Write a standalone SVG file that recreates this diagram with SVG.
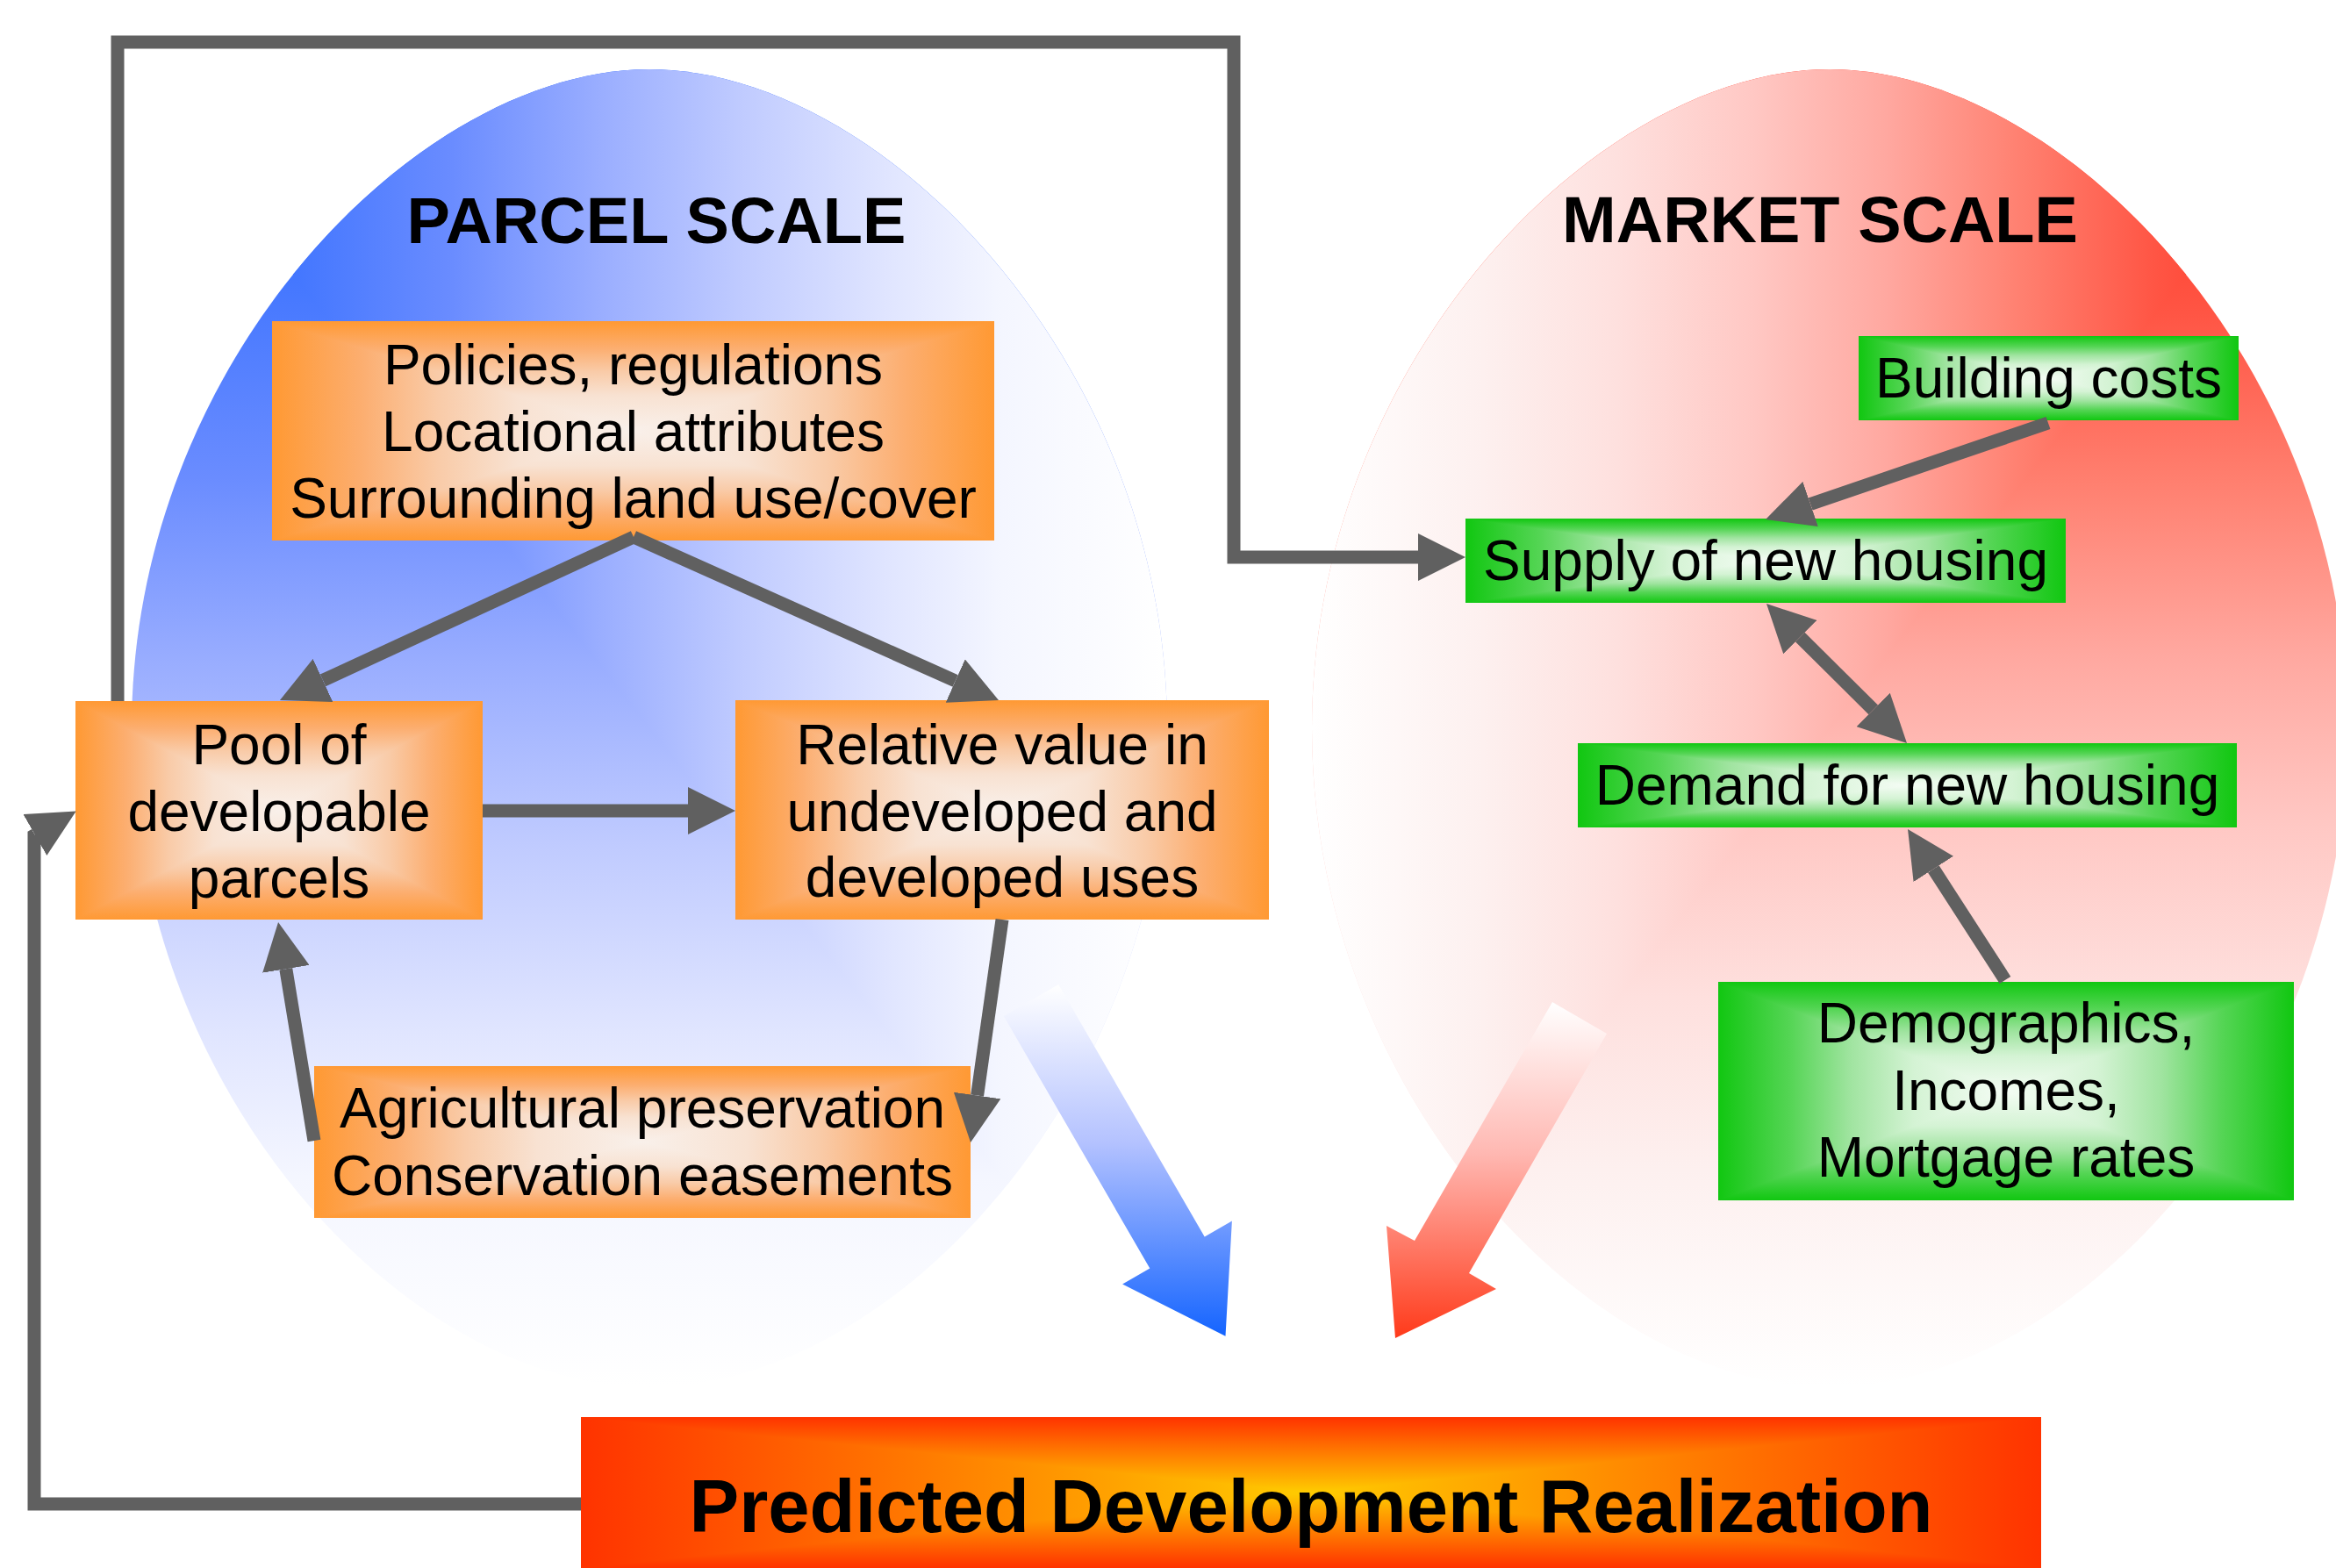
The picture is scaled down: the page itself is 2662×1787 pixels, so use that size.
<svg xmlns="http://www.w3.org/2000/svg" width="2662" height="1787" viewBox="0 0 2662 1787">
  <style>
    .lbl { font-family: "Liberation Sans", Arial, sans-serif; font-size: 64px; text-anchor: middle; fill: #000; }
    .ttl { font-family: "Liberation Sans", Arial, sans-serif; font-size: 74px; font-weight: bold; text-anchor: middle; fill: #000; }
    .big { font-family: "Liberation Sans", Arial, sans-serif; font-size: 85px; font-weight: bold; text-anchor: middle; fill: #000; }
    .conn { fill: none; stroke: #606060; stroke-width: 15; stroke-linejoin: miter; marker-end: url(#ah); }
    .tri { shape-rendering: crispEdges; }
    .oT { fill: url(#oT); } .oB { fill: url(#oB); } .oL { fill: url(#oL); } .oR { fill: url(#oR); }
    .gT { fill: url(#gT); } .gB { fill: url(#gB); } .gL { fill: url(#gL); } .gR { fill: url(#gR); }
    .yT { fill: url(#yT); } .yB { fill: url(#yB); } .yL { fill: url(#yL); } .yR { fill: url(#yR); }
  </style>
  <defs>
    <!-- arrowhead: base at the path end, tip 54px beyond -->
    <marker id="ah" markerUnits="userSpaceOnUse" markerWidth="54" markerHeight="54" viewBox="0 0 54 54" refX="0" refY="27" orient="auto-start-reverse">
      <path d="M0,0 L54,27 L0,54 z" fill="#606060"/>
    </marker>

    <!-- egg-shaped outlines of the two scale regions -->
    <path id="parcel-shape" d="M150,830 C150,415 474.5,79 740,79 C1005.5,79 1330,415 1330,830 C1330,1245 1017,1581 740,1581 C463,1581 150,1245 150,830 Z"/>
    <path id="market-shape" d="M1495,830 C1495,415 1819.5,79 2085,79 C2350.5,79 2675,415 2675,830 C2675,1245 2362,1581 2085,1581 C1808,1581 1495,1245 1495,830 Z"/>

    <!-- box fills: edge colour at offset 0, centre colour at offset 1 -->
    <linearGradient id="orange">
      <stop offset="0" stop-color="#ff9933"/>
      <stop offset="0.25" stop-color="#fcae70"/>
      <stop offset="0.46" stop-color="#f9cba8"/>
      <stop offset="0.68" stop-color="#f8e2d2"/>
      <stop offset="1" stop-color="#f9f0ea"/>
    </linearGradient>
    <linearGradient id="green">
      <stop offset="0" stop-color="#11c711"/>
      <stop offset="0.25" stop-color="#55d555"/>
      <stop offset="0.46" stop-color="#a0e4a0"/>
      <stop offset="0.68" stop-color="#d4f3d4"/>
      <stop offset="1" stop-color="#f4fcf4"/>
    </linearGradient>
    <linearGradient id="fire">
      <stop offset="0" stop-color="#ff3300"/>
      <stop offset="1" stop-color="#ffcc00"/>
    </linearGradient>
    <linearGradient id="oT" href="#orange" x1="0" y1="0" x2="0" y2="1"/>
    <linearGradient id="oB" href="#orange" x1="0" y1="1" x2="0" y2="0"/>
    <linearGradient id="oL" href="#orange" x1="0" y1="0" x2="1" y2="0"/>
    <linearGradient id="oR" href="#orange" x1="1" y1="0" x2="0" y2="0"/>
    <linearGradient id="gT" href="#green" x1="0" y1="0" x2="0" y2="1"/>
    <linearGradient id="gB" href="#green" x1="0" y1="1" x2="0" y2="0"/>
    <linearGradient id="gL" href="#green" x1="0" y1="0" x2="1" y2="0"/>
    <linearGradient id="gR" href="#green" x1="1" y1="0" x2="0" y2="0"/>
    <linearGradient id="yT" href="#fire" x1="0" y1="0" x2="0" y2="1"/>
    <linearGradient id="yB" href="#fire" x1="0" y1="1" x2="0" y2="0"/>
    <linearGradient id="yL" href="#fire" x1="0" y1="0" x2="1" y2="0"/>
    <linearGradient id="yR" href="#fire" x1="1" y1="0" x2="0" y2="0"/>

    <!-- scale regions: corner gradients (blue from top-left, red from top-right) -->
    <linearGradient id="blueV" gradientUnits="userSpaceOnUse" x1="0" y1="79" x2="0" y2="1581">
      <stop offset="0" stop-color="#1c5cff"/>
      <stop offset="0.16" stop-color="#4477ff"/>
      <stop offset="0.31" stop-color="#6a8cff"/>
      <stop offset="0.45" stop-color="#99adff"/>
      <stop offset="0.59" stop-color="#c0cbff"/>
      <stop offset="0.73" stop-color="#e0e5ff"/>
      <stop offset="0.84" stop-color="#f4f6ff"/>
      <stop offset="1" stop-color="#ffffff"/>
    </linearGradient>
    <linearGradient id="blueH" href="#blueV" gradientUnits="userSpaceOnUse" x1="150" y1="0" x2="1330" y2="0"/>
    <linearGradient id="redV" gradientUnits="userSpaceOnUse" x1="0" y1="79" x2="0" y2="1581">
      <stop offset="0" stop-color="#ff2a18"/>
      <stop offset="0.185" stop-color="#ff5544"/>
      <stop offset="0.315" stop-color="#ff8070"/>
      <stop offset="0.445" stop-color="#ffa8a0"/>
      <stop offset="0.575" stop-color="#ffc8c4"/>
      <stop offset="0.705" stop-color="#fee0de"/>
      <stop offset="0.835" stop-color="#fdf0ef"/>
      <stop offset="1" stop-color="#ffffff"/>
    </linearGradient>
    <linearGradient id="redH" href="#redV" gradientUnits="userSpaceOnUse" x1="2675" y1="0" x2="1495" y2="0"/>
    <clipPath id="blueUpper"><polygon points="150,79 1330,79 1330,1581"/></clipPath>
    <clipPath id="redUpper"><polygon points="2675,79 1495,79 1495,1581"/></clipPath>

    <!-- flow arrows into the result box -->
    <linearGradient id="blueFlow" x1="0" y1="0" x2="0" y2="1">
      <stop offset="0" stop-color="#ffffff"/>
      <stop offset="0.45" stop-color="#b4c2ff"/>
      <stop offset="1" stop-color="#1464ff"/>
    </linearGradient>
    <linearGradient id="redFlow" x1="0" y1="0" x2="0" y2="1">
      <stop offset="0" stop-color="#ffffff"/>
      <stop offset="0.45" stop-color="#ffb8b2"/>
      <stop offset="1" stop-color="#ff3a1a"/>
    </linearGradient>
  </defs>

  <rect width="2662" height="1787" fill="#ffffff"/>

  <!-- parcel scale region -->
  <g id="parcel-scale">
    <use href="#parcel-shape" fill="url(#blueV)"/>
    <use href="#parcel-shape" fill="url(#blueH)" clip-path="url(#blueUpper)"/>
    <text class="ttl" x="748" y="277">PARCEL SCALE</text>
  </g>

  <!-- market scale region -->
  <g id="market-scale">
    <use href="#market-shape" fill="url(#redV)"/>
    <use href="#market-shape" fill="url(#redH)" clip-path="url(#redUpper)"/>
    <text class="ttl" x="2074" y="276">MARKET SCALE</text>
  </g>

  <!-- broad arrows feeding the prediction -->
  <g id="flow-arrows">
    <polygon id="parcel-flow" fill="url(#blueFlow)" points="1143.8,1158 1206.2,1122 1372.7,1409.5 1403.9,1391.5 1396.5,1522.8 1279.1,1463.5 1310.3,1445.5"/>
    <polygon id="market-flow" fill="url(#redFlow)" points="1831,1178 1769,1142 1612,1414 1580,1397 1590,1525 1705,1469 1674,1451"/>
  </g>

  <!-- nodes -->
  <g id="policies">
    <polygon class="tri oT" points="310,366 1133,366 721.5,491"/>
    <polygon class="tri oB" points="310,616 1133,616 721.5,491"/>
    <polygon class="tri oL" points="310,366 310,616 721.5,491"/>
    <polygon class="tri oR" points="1133,366 1133,616 721.5,491"/>
    <text class="lbl"><tspan x="721.5" y="438">Policies, regulations</tspan><tspan x="721.5" y="514">Locational attributes</tspan><tspan x="721.5" y="590">Surrounding land use/cover</tspan></text>
  </g>

  <g id="pool">
    <polygon class="tri oT" points="86,799 550,799 318,923.5"/>
    <polygon class="tri oB" points="86,1048 550,1048 318,923.5"/>
    <polygon class="tri oL" points="86,799 86,1048 318,923.5"/>
    <polygon class="tri oR" points="550,799 550,1048 318,923.5"/>
    <text class="lbl"><tspan x="318" y="871">Pool of</tspan><tspan x="318" y="947">developable</tspan><tspan x="318" y="1023">parcels</tspan></text>
  </g>

  <g id="relative-value">
    <polygon class="tri oT" points="838,798 1446,798 1142,923"/>
    <polygon class="tri oB" points="838,1048 1446,1048 1142,923"/>
    <polygon class="tri oL" points="838,798 838,1048 1142,923"/>
    <polygon class="tri oR" points="1446,798 1446,1048 1142,923"/>
    <text class="lbl"><tspan x="1142" y="871">Relative value in</tspan><tspan x="1142" y="947">undeveloped and</tspan><tspan x="1142" y="1022">developed uses</tspan></text>
  </g>

  <g id="preservation">
    <polygon class="tri oT" points="358,1215 1106,1215 732,1301.5"/>
    <polygon class="tri oB" points="358,1388 1106,1388 732,1301.5"/>
    <polygon class="tri oL" points="358,1215 358,1388 732,1301.5"/>
    <polygon class="tri oR" points="1106,1215 1106,1388 732,1301.5"/>
    <text class="lbl"><tspan x="732" y="1285">Agricultural preservation</tspan><tspan x="732" y="1362">Conservation easements</tspan></text>
  </g>

  <g id="building-costs">
    <polygon class="tri gT" points="2118,383 2551,383 2334.5,431"/>
    <polygon class="tri gB" points="2118,479 2551,479 2334.5,431"/>
    <polygon class="tri gL" points="2118,383 2118,479 2334.5,431"/>
    <polygon class="tri gR" points="2551,383 2551,479 2334.5,431"/>
    <text class="lbl" x="2334.5" y="453">Building costs</text>
  </g>

  <g id="supply">
    <polygon class="tri gT" points="1670,591 2354,591 2012,639"/>
    <polygon class="tri gB" points="1670,687 2354,687 2012,639"/>
    <polygon class="tri gL" points="1670,591 1670,687 2012,639"/>
    <polygon class="tri gR" points="2354,591 2354,687 2012,639"/>
    <text class="lbl" x="2012" y="661">Supply of new housing</text>
  </g>

  <g id="demand">
    <polygon class="tri gT" points="1798,847 2549,847 2173.5,895"/>
    <polygon class="tri gB" points="1798,943 2549,943 2173.5,895"/>
    <polygon class="tri gL" points="1798,847 1798,943 2173.5,895"/>
    <polygon class="tri gR" points="2549,847 2549,943 2173.5,895"/>
    <text class="lbl" x="2173.5" y="917">Demand for new housing</text>
  </g>

  <g id="demographics">
    <polygon class="tri gT" points="1958,1119 2614,1119 2286,1243.5"/>
    <polygon class="tri gB" points="1958,1368 2614,1368 2286,1243.5"/>
    <polygon class="tri gL" points="1958,1119 1958,1368 2286,1243.5"/>
    <polygon class="tri gR" points="2614,1119 2614,1368 2286,1243.5"/>
    <text class="lbl"><tspan x="2286" y="1188">Demographics,</tspan><tspan x="2286" y="1265">Incomes,</tspan><tspan x="2286" y="1341">Mortgage rates</tspan></text>
  </g>

  <g id="prediction">
    <polygon class="tri yT" points="662,1615 2326,1615 1494,1701"/>
    <polygon class="tri yB" points="662,1787 2326,1787 1494,1701"/>
    <polygon class="tri yL" points="662,1615 662,1787 1494,1701"/>
    <polygon class="tri yR" points="2326,1615 2326,1787 1494,1701"/>
    <text class="big" x="1494" y="1746">Predicted Development Realization</text>
  </g>

  <!-- connectors -->
  <g id="connectors">
    <path class="conn" d="M134,799 V48 H1406 V635 H1616"/>
    <path class="conn" d="M662,1714 H39 V952 l0.87,-0.5"/>
    <path class="conn" d="M722,612 L368,775.4"/>
    <path class="conn" d="M722,612 L1088.7,776"/>
    <path class="conn" d="M550,924 H784"/>
    <path class="conn" d="M1142,1048 L1113.6,1248.5"/>
    <path class="conn" d="M358,1300 L325.8,1104.3"/>
    <path class="conn" d="M2334,482 L2063.1,574.5"/>
    <path class="conn" d="M2051.3,726.1 L2134.7,808.9" marker-start="url(#ah)"/>
    <path class="conn" d="M2285,1117 L2203.3,990.4"/>
  </g>
</svg>
